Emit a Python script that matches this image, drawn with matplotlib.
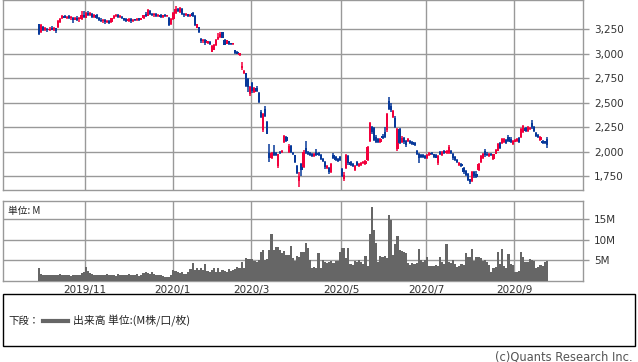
import matplotlib
matplotlib.use('Agg')
import matplotlib.pyplot as plt
from matplotlib.lines import Line2D
from matplotlib.patches import Rectangle
import numpy as np
import pandas as pd

# Tokyo market holidays inside the period shown
jp_holidays = ['2019-10-14', '2019-10-22', '2019-11-04', '2019-12-31',
               '2020-01-01', '2020-01-02', '2020-01-03', '2020-01-13',
               '2020-02-11', '2020-02-24', '2020-03-20', '2020-04-29',
               '2020-05-04', '2020-05-05', '2020-05-06', '2020-07-23',
               '2020-07-24', '2020-08-10', '2020-09-21', '2020-09-22']

# daily prices, Oct 2019 .. Sep 2020 (one row per month)
opens = [
    3300, 3220, 3270, 3240, 3255, 3240, 3255, 3245, 3260, 3270, 3320, 3360, 3385, 3365, 3390, 3360, 3370, 3345, 3370, 3350, 3350,
    3400, 3370, 3420, 3400, 3410, 3380, 3395, 3365, 3345, 3330, 3340, 3320, 3330, 3320, 3360, 3385, 3395, 3375, 3380, 3360,
    3345, 3335, 3350, 3330, 3345, 3340, 3355, 3345, 3360, 3410, 3390, 3440, 3405, 3395, 3405, 3385, 3395, 3380, 3395, 3385, 3370,
    3300, 3350, 3420, 3460, 3430, 3460, 3410, 3395, 3400, 3385, 3420, 3390, 3265, 3270, 3150, 3130, 3140, 3110, 3115,
    3020, 3040, 3085, 3150, 3170, 3220, 3145, 3100, 3125, 3105, 3095, 3035, 3020, 2990, 2850, 2805, 2800, 2740,
    2590, 2700, 2610, 2650, 2600, 2400, 2220, 2440, 2300, 1990, 1935, 2000, 1985, 1850, 2000, 1995, 2095, 2150, 2000, 2060, 1990,
    1960, 1855, 1700, 1870, 1840, 2040, 2000, 1985, 1975, 1950, 2000, 1990, 1960, 1920, 1890, 1830, 1830, 1795, 1960, 1940, 1920,
    1940, 1820, 1720, 1830, 1950, 1890, 1870, 1810, 1890, 1850, 1860, 1880, 1870, 1910, 2110, 2250, 2240, 2150,
    2130, 2100, 2160, 2200, 2220, 2520, 2470, 2350, 2340, 2030, 2230, 2100, 2140, 2110, 2110, 2110, 2100, 2090, 2010, 1980, 1960, 1960,
    1950, 1930, 1960, 1990, 1970, 1960, 1880, 2000, 1960, 2010, 1990, 1990, 2010, 1980, 1940, 1910, 1860, 1870, 1835, 1800, 1770,
    1715, 1700, 1790, 1770, 1810, 1890, 1930, 2010, 1980, 1950, 1980, 1920, 1980, 2010, 2090, 2090, 2100, 2120, 2150, 2130,
    2080, 2100, 2110, 2140, 2150, 2200, 2240, 2210, 2230, 2290, 2250, 2190, 2170, 2120, 2110, 2100, 2130,
]
highs = [
    3300, 3300, 3280, 3275, 3265, 3270, 3285, 3270, 3265, 3340, 3365, 3395, 3395, 3390, 3400, 3385, 3380, 3380, 3385, 3375, 3440,
    3440, 3430, 3440, 3425, 3420, 3410, 3405, 3380, 3360, 3355, 3350, 3345, 3340, 3370, 3395, 3405, 3405, 3400, 3390, 3370,
    3360, 3360, 3360, 3355, 3355, 3365, 3365, 3370, 3400, 3425, 3455, 3450, 3420, 3415, 3415, 3410, 3405, 3400, 3405, 3400, 3375,
    3365, 3430, 3490, 3470, 3475, 3470, 3420, 3415, 3410, 3410, 3430, 3395, 3305, 3275, 3160, 3155, 3150, 3135, 3130,
    3085, 3100, 3150, 3210, 3225, 3225, 3150, 3145, 3130, 3110, 3105, 3040, 3025, 3010, 2920, 2830, 2805, 2750,
    2670, 2710, 2660, 2670, 2605, 2420, 2390, 2470, 2310, 2080, 1995, 2070, 2000, 1980, 2010, 2020, 2165, 2160, 2075, 2070, 2000,
    1965, 1860, 1790, 1880, 2020, 2110, 2010, 1995, 1985, 1990, 2030, 2000, 1970, 1930, 1900, 1860, 1840, 1880, 1990, 1950, 1930,
    1950, 1830, 1790, 1970, 1960, 1900, 1880, 1860, 1900, 1880, 1890, 1900, 1910, 2060, 2300, 2260, 2250, 2165,
    2140, 2140, 2180, 2250, 2390, 2560, 2500, 2420, 2360, 2240, 2240, 2160, 2150, 2120, 2140, 2120, 2110, 2100, 2020, 1990, 1970, 1975,
    1960, 1970, 2000, 2000, 1980, 1975, 1960, 2010, 2010, 2020, 2020, 2070, 2015, 1985, 1950, 1920, 1890, 1880, 1840, 1810, 1785,
    1720, 1800, 1805, 1800, 1880, 1960, 1985, 2030, 1995, 1990, 1990, 1980, 2030, 2090, 2100, 2140, 2140, 2130, 2170, 2150,
    2120, 2130, 2140, 2150, 2240, 2270, 2250, 2260, 2255, 2320, 2260, 2200, 2180, 2160, 2120, 2110, 2145,
]
lows = [
    3190, 3210, 3230, 3230, 3225, 3230, 3240, 3235, 3210, 3265, 3310, 3350, 3360, 3350, 3350, 3340, 3310, 3340, 3335, 3320, 3340,
    3360, 3360, 3390, 3385, 3370, 3370, 3355, 3335, 3320, 3315, 3300, 3310, 3305, 3315, 3355, 3375, 3360, 3365, 3350, 3335,
    3320, 3325, 3315, 3320, 3330, 3330, 3335, 3340, 3355, 3375, 3385, 3395, 3385, 3380, 3375, 3375, 3370, 3370, 3375, 3378, 3280,
    3290, 3340, 3410, 3425, 3420, 3400, 3380, 3385, 3380, 3380, 3380, 3285, 3260, 3215, 3110, 3110, 3090, 3095, 3085,
    3015, 3035, 3080, 3140, 3165, 3160, 3085, 3095, 3090, 3090, 3085, 3000, 2995, 2980, 2830, 2795, 2660, 2610,
    2570, 2600, 2600, 2610, 2500, 2340, 2200, 2350, 2175, 1890, 1920, 1950, 1950, 1835, 1975, 1985, 2085, 2095, 1985, 1990, 1965,
    1885, 1775, 1640, 1750, 1835, 1980, 1960, 1950, 1940, 1945, 1950, 1950, 1910, 1890, 1825, 1820, 1775, 1785, 1920, 1905, 1895,
    1905, 1740, 1700, 1820, 1860, 1850, 1840, 1800, 1850, 1840, 1850, 1870, 1860, 1905, 2100, 2180, 2110, 2090,
    2090, 2090, 2130, 2140, 2200, 2420, 2400, 2340, 2240, 2010, 2080, 2090, 2080, 2050, 2100, 2080, 2070, 2060, 1960, 1880, 1930, 1930,
    1920, 1920, 1950, 1960, 1930, 1930, 1860, 1960, 1950, 1980, 1980, 1980, 1975, 1910, 1900, 1880, 1850, 1840, 1775, 1750, 1700,
    1665, 1690, 1730, 1730, 1805, 1885, 1920, 1940, 1950, 1945, 1955, 1910, 1970, 2005, 2030, 2080, 2090, 2080, 2100, 2090,
    2070, 2095, 2100, 2090, 2140, 2190, 2200, 2200, 2220, 2235, 2200, 2150, 2140, 2110, 2080, 2080, 2040,
]
closes = [
    3200, 3290, 3240, 3260, 3240, 3255, 3245, 3260, 3230, 3330, 3350, 3385, 3370, 3380, 3360, 3370, 3345, 3370, 3345, 3360, 3395,
    3380, 3420, 3400, 3415, 3380, 3400, 3370, 3345, 3330, 3345, 3320, 3335, 3315, 3360, 3390, 3395, 3375, 3385, 3360, 3345,
    3335, 3350, 3330, 3345, 3340, 3355, 3345, 3360, 3395, 3385, 3445, 3405, 3395, 3405, 3385, 3400, 3380, 3395, 3385, 3390, 3295,
    3350, 3420, 3460, 3440, 3465, 3410, 3395, 3405, 3390, 3400, 3385, 3290, 3300, 3225, 3125, 3140, 3105, 3120, 3100,
    3075, 3090, 3140, 3170, 3205, 3165, 3090, 3140, 3100, 3095, 3100, 3010, 3000, 3005, 2870, 2815, 2670, 2660,
    2660, 2620, 2650, 2620, 2510, 2355, 2380, 2360, 2180, 1935, 1985, 1965, 1960, 1970, 1985, 2005, 2155, 2105, 2060, 1995, 1975,
    1895, 1785, 1750, 1810, 2000, 1990, 1975, 1960, 1950, 1980, 1960, 1960, 1920, 1900, 1840, 1850, 1790, 1870, 1930, 1915, 1905,
    1915, 1750, 1760, 1960, 1880, 1865, 1850, 1850, 1860, 1870, 1880, 1890, 1900, 2050, 2290, 2200, 2120, 2100,
    2100, 2130, 2140, 2150, 2380, 2430, 2420, 2410, 2250, 2230, 2090, 2140, 2100, 2070, 2130, 2090, 2080, 2070, 1975, 1930, 1940, 1940,
    1930, 1960, 1990, 1970, 1940, 1935, 1950, 1970, 2000, 1990, 2010, 2050, 1985, 1930, 1910, 1890, 1880, 1850, 1790, 1760, 1710,
    1685, 1790, 1750, 1740, 1870, 1950, 1970, 1960, 1960, 1980, 1965, 1970, 2020, 2080, 2040, 2130, 2130, 2090, 2110, 2100,
    2110, 2120, 2130, 2100, 2230, 2260, 2210, 2250, 2245, 2250, 2210, 2160, 2150, 2150, 2090, 2090, 2070,
]
# volume, millions of shares
volumes = [
    3.2, 1.6, 1.4, 1.5, 1.4, 1.3, 1.4, 1.5, 1.3, 1.5, 1.6, 1.4, 1.3, 1.5, 1.4, 1.2, 1.5, 1.4, 1.3, 1.5, 1.8,
    2.0, 3.4, 2.4, 1.8, 1.6, 1.4, 1.3, 1.5, 1.4, 1.3, 1.5, 1.6, 1.4, 1.3, 1.5, 1.2, 1.6, 1.4, 1.3, 1.5,
    1.4, 1.6, 1.5, 1.3, 1.4, 1.6, 1.2, 1.5, 1.8, 2.2, 1.9, 1.6, 2.1, 1.7, 1.5, 1.4, 1.3, 1.1, 0.9, 0.8, 1.0,
    1.5, 2.6, 2.4, 2.0, 1.8, 2.2, 1.6, 1.7, 2.1, 2.8, 4.4, 2.5, 3.2, 2.5, 3.0, 2.6, 4.0, 2.3, 2.0,
    2.5, 3.0, 2.2, 3.2, 2.0, 2.6, 2.4, 2.1, 2.8, 2.3, 2.5, 2.8, 3.4, 3.0, 4.6, 3.2, 5.6, 5.2,
    5.4, 5.2, 4.8, 4.6, 5.0, 6.9, 7.6, 5.0, 5.2, 7.6, 11.4, 7.6, 8.3, 8.2, 7.5, 6.8, 7.2, 6.3, 6.2, 8.4, 5.6,
    4.8, 5.9, 5.8, 7.1, 7.0, 9.2, 8.0, 5.0, 3.1, 3.3, 3.1, 6.8, 3.1, 5.0, 4.5, 4.3, 4.6, 4.8, 4.4, 4.8, 4.7,
    7.1, 8.0, 7.9, 5.5, 8.0, 4.0, 3.8, 4.8, 4.6, 5.0, 4.5, 4.0, 5.9, 3.6, 11.3, 18.0, 12.3, 9.2,
    4.5, 5.9, 5.8, 6.0, 5.6, 15.9, 14.8, 6.3, 9.0, 11.0, 7.5, 7.2, 7.0, 6.8, 4.2, 3.8, 4.2, 4.0, 4.4, 7.7, 5.0, 4.5,
    5.0, 5.8, 3.7, 3.7, 3.6, 3.8, 3.7, 5.8, 4.5, 4.0, 9.0, 4.6, 4.2, 5.0, 4.0, 3.4, 3.6, 4.0, 3.8, 6.7, 5.8,
    5.8, 7.7, 4.8, 5.8, 5.8, 5.6, 4.7, 5.0, 4.6, 3.8, 2.0, 3.2, 3.3, 7.0, 4.0, 7.7, 3.5, 3.2, 6.4, 4.0,
    3.8, 2.1, 2.0, 2.4, 7.0, 5.8, 4.6, 4.6, 5.2, 5.0, 4.8, 3.2, 3.4, 3.8, 3.6, 4.6, 4.8,
]

price_ticks = [1750, 2000, 2250, 2500, 2750, 3000, 3250]
volume_ticks = [5, 10, 15]
month_starts = ['2019-11-01', '2020-01-01', '2020-03-01', '2020-05-01', '2020-07-01', '2020-09-01']
month_labels = ['2019/11', '2020/1', '2020/3', '2020/5', '2020/7', '2020/9']

RED = '#f2003c'
BLUE = '#08399a'
GRID = '#999999'
CJK = ['Noto Sans CJK JP', 'DejaVu Sans']

dates = pd.bdate_range('2019-10-01', '2020-09-25', freq='C', holidays=jp_holidays)
n = len(closes)
x = np.arange(n)
month_pos = [np.searchsorted(dates[:n], pd.Timestamp(m)) + 0.6 for m in month_starts]

o = np.array(opens, dtype=float)
c = np.array(closes, dtype=float)
colors = np.where(c >= o, RED, BLUE)

W, H = 638, 362
fig = plt.figure(figsize=(W / 100, H / 100), dpi=100)
left, right = 3.3, 582.7
ax = fig.add_axes([left / W, 1 - 190.3 / H, (right - left) / W, 190 / H])
axv = fig.add_axes([left / W, 1 - 280.7 / H, (right - left) / W, 80 / H])

# candles
ax.vlines(x, lows, highs, colors=colors, linewidth=1.1, zorder=3)
ax.bar(x, np.maximum(np.abs(c - o), 15), bottom=np.minimum(o, c), width=1.05,
       color=colors, linewidth=0, zorder=3)
ax.set_xlim(-16.7, 254.8)
ax.set_ylim(1604, 3546)
ax.set_yticks(price_ticks)
ax.set_yticklabels(['{:,}'.format(t) for t in price_ticks])
ax.set_xticks(month_pos)
ax.set_xticklabels([])

# volume
axv.bar(x, volumes, width=1.0, color='#666666', linewidth=0, zorder=3)
axv.set_xlim(-16.7, 254.8)
axv.set_ylim(0, 19.5)
axv.set_yticks(volume_ticks)
axv.set_yticklabels(['%dM' % t for t in volume_ticks])
axv.set_xticks(month_pos)
axv.set_xticklabels(month_labels)
axv.text(0.008, 0.87, '単位: M', transform=axv.transAxes, fontsize=7,
         family=CJK, va='center', ha='left', color='#222222')

for a in (ax, axv):
    a.yaxis.tick_right()
    a.grid(True, color=GRID, linewidth=1)
    a.set_axisbelow(True)
    for s in a.spines.values():
        s.set_color(GRID)
        s.set_linewidth(1)
    a.tick_params(axis='y', direction='out', length=4, width=1, color=GRID,
                  labelsize=7.5, labelcolor='#333333', pad=4)
    a.tick_params(axis='x', length=0, labelsize=7.5, labelcolor='#333333', pad=3)

# legend box
fig.patches.append(Rectangle((left / W, 1 - 345.7 / H), (635 - left) / W, 51.7 / H,
                             transform=fig.transFigure, fill=False,
                             edgecolor='black', linewidth=1))
ly = 1 - 321 / H
fig.text(8 / W, ly, '下段：', fontsize=7.5, family=CJK, va='center', color='#222222')
fig.lines.append(Line2D([43 / W, 68 / W], [ly, ly], transform=fig.transFigure,
                        color='#666666', linewidth=3))
fig.text(73 / W, ly, '出来高 単位:(M株/口/枚)', fontsize=7.8, family=CJK,
         va='center', color='#222222')
fig.text(633 / W, 1 - 357 / H, '(c)Quants Research Inc.', fontsize=8.3,
         ha='right', va='center', color='#555555')

fig.savefig('out.png', dpi=100)
